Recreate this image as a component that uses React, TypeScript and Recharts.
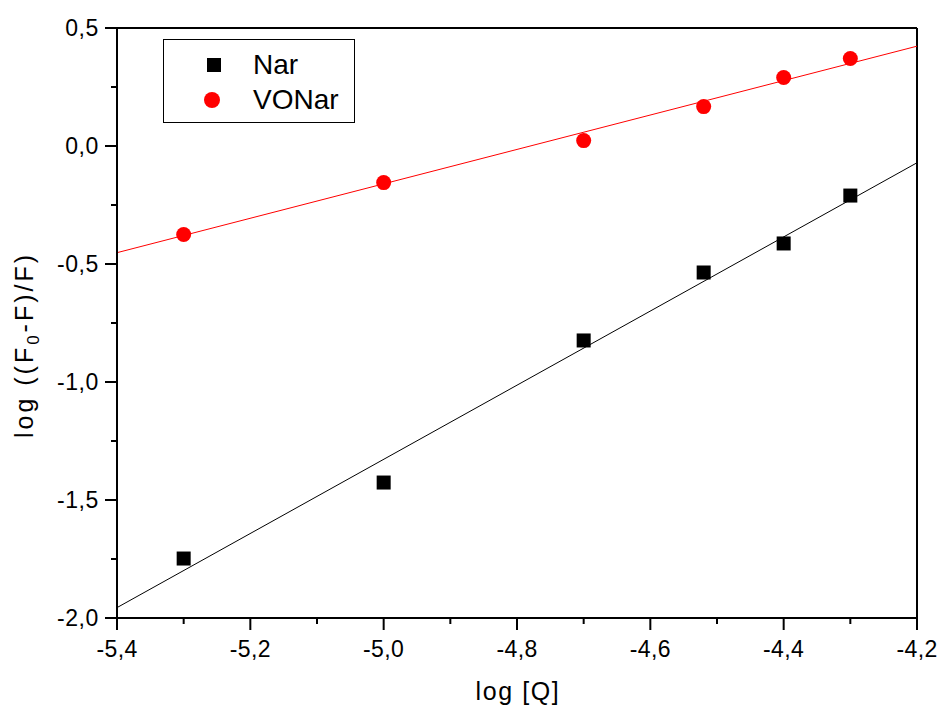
import React from 'react';
import { ComposedChart, Scatter, Line, XAxis, YAxis, ReferenceLine } from 'recharts';

const logQ = [-5.3, -5.0, -4.7, -4.52, -4.4, -4.3];
const narValues = [-1.748, -1.426, -0.824, -0.536, -0.413, -0.21];
const voNarValues = [-0.375, -0.155, 0.023, 0.167, 0.29, 0.371];
const fitX = [-5.4, -4.2];
const narFit = [-1.956, -0.071];
const voNarFit = [-0.452, 0.423];
const xTicks = [-5.4, -5.3, -5.2, -5.1, -5.0, -4.9, -4.8, -4.7, -4.6, -4.5, -4.4, -4.3, -4.2];
const yTicks = [-2, -1.75, -1.5, -1.25, -1, -0.75, -0.5, -0.25, 0, 0.25, 0.5];

const narData = logQ.map((x, i) => ({ x, y: narValues[i] }));
const voNarData = logQ.map((x, i) => ({ x, y: voNarValues[i] }));
const narFitData = fitX.map((x, i) => ({ x, y: narFit[i] }));
const voNarFitData = fitX.map((x, i) => ({ x, y: voNarFit[i] }));

const FONT = '"Liberation Sans", Arial, sans-serif';
const fmt = (v: number) => v.toFixed(1).replace('.', ',');

const XTick = (props: any) => {
  const { x, y, payload } = props;
  const v = payload.value as number;
  const major = Math.abs(Math.round(v * 10)) % 2 === 0;
  return (
    <g>
      <line x1={x} x2={x} y1={y} y2={y + (major ? 12 : 6)} stroke="#000" strokeWidth={2} />
      {major && (
        <text
          x={x}
          y={y + 39}
          textAnchor="middle"
          fontSize={23}
          fontFamily={FONT}
          fill="#000"
          style={{ letterSpacing: '0.4px' }}
        >
          {fmt(v)}
        </text>
      )}
    </g>
  );
};

const YTick = (props: any) => {
  const { x, y, payload } = props;
  const v = payload.value as number;
  const major = Math.abs(Math.round(v * 4)) % 2 === 0;
  return (
    <g>
      <line x1={x - (major ? 12 : 6)} x2={x} y1={y} y2={y} stroke="#000" strokeWidth={2} />
      {major && (
        <text
          x={x - 18}
          y={y + 8}
          textAnchor="end"
          fontSize={23}
          fontFamily={FONT}
          fill="#000"
          style={{ letterSpacing: '0.6px' }}
        >
          {fmt(v)}
        </text>
      )}
    </g>
  );
};

const SquareShape = (props: any) => {
  const { cx, cy } = props;
  return <rect x={cx - 7} y={cy - 7} width={14} height={14} fill="#000" />;
};

const CircleShape = (props: any) => {
  const { cx, cy } = props;
  return <circle cx={cx} cy={cy} r={7.5} fill="#ff0000" />;
};

const YLabel = () => (
  <text
    x={33}
    y={345}
    transform="rotate(-90 33 345)"
    textAnchor="middle"
    fontSize={25}
    fontFamily={FONT}
    fill="#000"
    style={{ letterSpacing: '3px' }}
  >
    log ((F<tspan dy={6} fontSize={17}>0</tspan>
    <tspan dy={-6} fontSize={25}>-F)/F)</tspan>
  </text>
);

const XLabel = () => (
  <text
    x={518}
    y={700}
    textAnchor="middle"
    fontSize={25}
    fontFamily={FONT}
    fill="#000"
    style={{ letterSpacing: '1.6px' }}
  >
    log [Q]
  </text>
);

export default function App() {
  return (
    <div style={{ position: 'absolute', left: 0, top: 0, width: 941, height: 709, background: '#fff' }}>
      <ComposedChart
        width={941}
        height={709}
        margin={{ top: 28, right: 24, bottom: 0, left: 0 }}
      >
        <XAxis
          type="number"
          dataKey="x"
          domain={[-5.4, -4.2]}
          ticks={xTicks}
          interval={0}
          allowDataOverflow
          height={91}
          tickSize={0}
          tickMargin={0}
          tickLine={false}
          axisLine={{ stroke: '#000', strokeWidth: 2 }}
          tick={<XTick />}
          label={<XLabel />}
        />
        <YAxis
          type="number"
          dataKey="y"
          domain={[-2, 0.5]}
          ticks={yTicks}
          interval={0}
          allowDataOverflow
          width={117}
          tickSize={0}
          tickMargin={0}
          tickLine={false}
          axisLine={{ stroke: '#000', strokeWidth: 2 }}
          tick={<YTick />}
          label={<YLabel />}
        />
        <ReferenceLine y={0.5} stroke="#000" strokeWidth={2} />
        <ReferenceLine x={-4.2} stroke="#000" strokeWidth={2} />
        <Line
          data={narFitData}
          dataKey="y"
          stroke="#000"
          strokeWidth={1}
          dot={false}
          activeDot={false}
          isAnimationActive={false}
        />
        <Line
          data={voNarFitData}
          dataKey="y"
          stroke="#ff0000"
          strokeWidth={1}
          dot={false}
          activeDot={false}
          isAnimationActive={false}
        />
        <Scatter data={narData} dataKey="y" shape={<SquareShape />} isAnimationActive={false} />
        <Scatter data={voNarData} dataKey="y" shape={<CircleShape />} isAnimationActive={false} />
      </ComposedChart>
      <div
        style={{
          position: 'absolute',
          left: 163,
          top: 39,
          width: 190,
          height: 82,
          border: '1px solid #000',
          background: '#fff',
          fontFamily: FONT,
          fontSize: 28,
          lineHeight: '28px',
        }}
      >
        <div style={{ position: 'absolute', left: 43, top: 18, width: 14, height: 14, background: '#000' }} />
        <div style={{ position: 'absolute', left: 89, top: 11, whiteSpace: 'nowrap' }}>Nar</div>
        <div
          style={{ position: 'absolute', left: 40, top: 52, width: 16, height: 16, borderRadius: '50%', background: '#ff0000' }}
        />
        <div style={{ position: 'absolute', left: 89, top: 46, whiteSpace: 'nowrap' }}>VONar</div>
      </div>
    </div>
  );
}
